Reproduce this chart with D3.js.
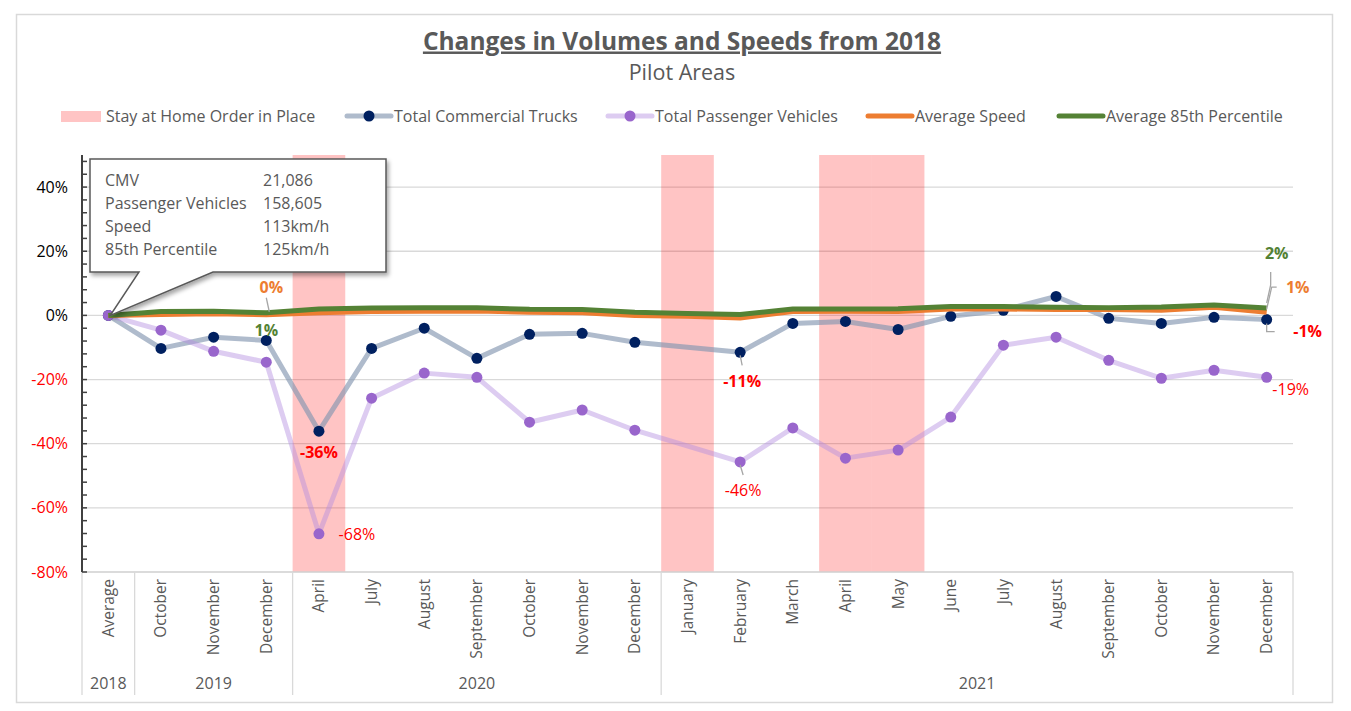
<!DOCTYPE html>
<html><head><meta charset="utf-8">
<script src="https://cdn.jsdelivr.net/npm/d3@7"></script>
<style>
body{margin:0;background:#fff}
svg{display:block}
text{font-family:'Open Sans',Lato,sans-serif}
</style>
</head><body>
<svg id="c" width="1351" height="711"></svg>
<script>
// ---------------- data ----------------
const categories = ["Average","October","November","December","April","July","August","September","October","November","December","January","February","March","April","May","June","July","August","September","October","November","December"];
const years = ["2018","2019","2020","2021"];
const yearOfCategory = [0,1,1,1,2,2,2,2,2,2,2,3,3,3,3,3,3,3,3,3,3,3,3];
const stayAtHome = [0,0,0,0,1,0,0,0,0,0,0,1,0,0,1,1,0,0,0,0,0,0,0];
const trucks    = [0,-10.3,-6.8,-7.8,-36.1,-10.3,-4.0,-13.4,-5.9,-5.6,-8.4,null,-11.5,-2.5,-1.9,-4.4,-0.3,1.6,5.9,-0.9,-2.5,-0.6,-1.3];
const passenger = [0,-4.6,-11.2,-14.6,-68.1,-25.8,-18.0,-19.3,-33.3,-29.5,-35.8,null,-45.7,-35.1,-44.5,-42.0,-31.7,-9.3,-6.8,-14.0,-19.6,-17.1,-19.3];
const avgSpeed  = [0,0.3,0.5,0.2,0.8,1.2,1.3,1.4,1.0,0.8,0.0,-0.3,-0.8,1.2,1.3,1.2,2.0,2.0,1.8,1.8,1.6,2.5,1.0];
const avg85th   = [0,1.2,1.3,0.8,2.0,2.3,2.4,2.4,1.9,1.8,1.0,0.6,0.3,2.0,2.0,2.1,2.8,2.8,2.5,2.4,2.6,3.2,2.3];
const yTicks = [-80,-60,-40,-20,0,20,40];
const calloutNames  = ["CMV","Passenger Vehicles","Speed","85th Percentile"];
const calloutValues = ["21,086","158,605","113km/h","125km/h"];
const seriesNames = ["Stay at Home Order in Place","Total Commercial Trucks","Total Passenger Vehicles","Average Speed","Average 85th Percentile"];

// ---------------- layout ----------------
const L = 82, R = 1293, T = 155, B = 572;
const svg = d3.select("#c");
const x = d3.scaleBand().domain(d3.range(categories.length)).range([L, R]).padding(0);
const cx = i => x(i) + x.bandwidth()/2;
const y = d3.scaleLinear().domain([-80, 50]).range([B, T]);
const grey = "#595959";

// outer border
svg.append("rect").attr("x",16.5).attr("y",14.5).attr("width",1316).attr("height",688)
  .attr("fill","#fff").attr("stroke","#D9D9D9").attr("stroke-width",1.5);

// title
svg.append("text").attr("x",682).attr("y",49.5).attr("text-anchor","middle")
  .attr("font-size",24.5).attr("font-weight","bold").attr("fill",grey)
  .attr("text-decoration","underline").text("Changes in Volumes and Speeds from 2018");
svg.append("text").attr("x",682).attr("y",80).attr("text-anchor","middle")
  .attr("font-size",21.5).attr("fill",grey).text("Pilot Areas");

// gridlines
svg.append("g").selectAll("line").data(yTicks).join("line")
  .attr("x1",L).attr("x2",R).attr("y1",d=>y(d)).attr("y2",d=>y(d))
  .attr("stroke","#D9D9D9").attr("stroke-width",1.3);

// stay at home bands
svg.append("g").selectAll("rect").data(d3.range(categories.length).filter(i=>stayAtHome[i]))
  .join("rect").attr("x",i=>x(i)).attr("width",x.bandwidth())
  .attr("y",y(50)).attr("height",y(-80)-y(50))
  .attr("fill","#FF0000").attr("fill-opacity",0.23);

// x axis line + separators
svg.append("line").attr("x1",L).attr("x2",R).attr("y1",B).attr("y2",B).attr("stroke","#D9D9D9").attr("stroke-width",1.3);
const groups = years.map((yr,g)=>{
  const idx = d3.range(categories.length).filter(i=>yearOfCategory[i]===g);
  return {yr, s: d3.min(idx), e: d3.max(idx)+1};
});
const sepX = groups.map(g=>x(g.s)).concat([R]);
svg.append("g").selectAll("line").data(sepX).join("line")
  .attr("x1",d=>d).attr("x2",d=>d).attr("y1",B).attr("y2",695)
  .attr("stroke","#D9D9D9").attr("stroke-width",1.3);
svg.append("g").selectAll("text").data(groups).join("text")
  .attr("x",g=>(x(g.s)+ (g.e<categories.length? x(g.e):R))/2).attr("y",689)
  .attr("text-anchor","middle").attr("font-size",16).attr("fill",grey).text(g=>g.yr);
svg.append("g").selectAll("text").data(categories).join("text")
  .attr("transform",(d,i)=>`translate(${cx(i)},579) rotate(-90)`)
  .attr("text-anchor","end").attr("dy","0.35em").attr("font-size",15.5).attr("fill",grey).text(d=>d);

// y axis
const yAxisG = svg.append("g");
yAxisG.append("line").attr("x1",L).attr("x2",L).attr("y1",T).attr("y2",B).attr("stroke","#404040").attr("stroke-width",2);
yAxisG.selectAll("line.t").data(d3.range(-80,49,4)).join("line").attr("class","t")
  .attr("x1",L).attr("x2",L+5).attr("y1",d=>y(d)).attr("y2",d=>y(d)).attr("stroke","#404040").attr("stroke-width",1.5);
yAxisG.selectAll("text").data(yTicks).join("text")
  .attr("x",68).attr("y",d=>y(d)).attr("dy","0.35em").attr("text-anchor","end")
  .attr("font-size",16).attr("fill",d=>d<0?"#FF0000":"#000").text(d=>d+"%");

// series lines
const line = d3.line().x(d=>cx(d.i)).y(d=>y(d.v));
const pts = arr => arr.map((v,i)=>({v,i})).filter(d=>d.v!==null);
svg.append("path").datum(pts(trucks)).attr("d",line).attr("fill","none")
  .attr("stroke","#8497B0").attr("stroke-opacity",0.65).attr("stroke-width",5).attr("stroke-linejoin","round");
svg.append("g").selectAll("circle").data(pts(trucks)).join("circle")
  .attr("cx",d=>cx(d.i)).attr("cy",d=>y(d.v)).attr("r",5.5).attr("fill","#002060");
svg.append("path").datum(pts(passenger)).attr("d",line).attr("fill","none")
  .attr("stroke","#B48FE0").attr("stroke-opacity",0.45).attr("stroke-width",5).attr("stroke-linejoin","round");
svg.append("g").selectAll("circle").data(pts(passenger)).join("circle")
  .attr("cx",d=>cx(d.i)).attr("cy",d=>y(d.v)).attr("r",5.5).attr("fill","#9966CC");
svg.append("path").datum(pts(avgSpeed)).attr("d",line).attr("fill","none")
  .attr("stroke","#ED7D31").attr("stroke-width",5).attr("stroke-linejoin","round");
svg.append("path").datum(pts(avg85th)).attr("d",line).attr("fill","none")
  .attr("stroke","#548235").attr("stroke-width",5).attr("stroke-linejoin","round");

// data labels
const fmt = v => Math.round(v) + "%";
const labels = [
  {arr:avgSpeed, i:3, color:"#ED7D31", bold:true, dx:5, dy:-27, leader:[[3,-3],[0,-17]]},
  {arr:avg85th, i:3, color:"#548235", bold:true, dx:0, dy:18},
  {arr:trucks, i:4, color:"#FF0000", bold:true, dx:0, dy:21},
  {arr:passenger, i:4, color:"#FF0000", bold:false, dx:38, dy:1},
  {arr:trucks, i:12, color:"#FF0000", bold:true, dx:2, dy:29, leader:[[0,3],[2,13]]},
  {arr:passenger, i:12, color:"#FF0000", bold:false, dx:3, dy:28, leader:[[0,3],[3,13]]},
  {arr:avg85th, i:22, color:"#548235", bold:true, dx:10, dy:-55, leader:[[0,-5],[4,-23],[4,-36]]},
  {arr:avgSpeed, i:22, color:"#ED7D31", bold:true, dx:31, dy:-25, leader:[[0,-3],[5,-25],[10,-25]]},
  {arr:trucks, i:22, color:"#FF0000", bold:true, dx:41, dy:12, leader:[[0,4],[0,12],[8,12]]},
  {arr:passenger, i:22, color:"#FF0000", bold:false, dx:24, dy:12}
];
labels.forEach(l=>{
  const px = cx(l.i), py = y(l.arr[l.i]);
  if (l.leader) svg.append("path").attr("d", d3.line()(l.leader.map(p=>[px+p[0],py+p[1]])))
    .attr("fill","none").attr("stroke","#A6A6A6").attr("stroke-width",1.3);
  svg.append("text").attr("x",px+l.dx).attr("y",py+l.dy).attr("dy","0.35em").attr("text-anchor","middle")
    .attr("font-size",16).attr("font-weight",l.bold?"bold":"normal").attr("fill",l.color).text(fmt(l.arr[l.i]));
});

// legend
const lg = svg.append("g");
const ly = 116;
lg.append("rect").attr("x",61).attr("y",ly-5).attr("width",40).attr("height",11).attr("fill","#FF0000").attr("fill-opacity",0.23);
lg.append("text").attr("x",106).attr("y",ly).attr("dy","0.35em").attr("font-size",16).attr("fill",grey).text(seriesNames[0]);
function legLine(x0, color, op, text, marker){
  lg.append("line").attr("x1",x0).attr("x2",x0+44).attr("y1",ly).attr("y2",ly).attr("stroke",color).attr("stroke-opacity",op).attr("stroke-width",5).attr("stroke-linecap","round");
  if (marker) lg.append("circle").attr("cx",x0+22).attr("cy",ly).attr("r",5.5).attr("fill",marker);
  lg.append("text").attr("x",x0+47).attr("y",ly).attr("dy","0.35em").attr("font-size",16).attr("fill",grey).text(text);
}
legLine(347,"#8497B0",0.65,seriesNames[1],"#002060");
legLine(608,"#B48FE0",0.45,seriesNames[2],"#9966CC");
legLine(868,"#ED7D31",1,seriesNames[3],null);
legLine(1059,"#548235",1,seriesNames[4],null);

// callout
const defs = svg.append("defs");
const f = defs.append("filter").attr("id","sh").attr("x","-10%").attr("y","-10%").attr("width","130%").attr("height","150%");
f.append("feDropShadow").attr("dx",2).attr("dy",3).attr("stdDeviation",2).attr("flood-color","#000").attr("flood-opacity",0.35);
const ax = cx(0), ay = y(0);
const bx0 = 90, by0 = 159, bx1 = 386, by1 = 272;
svg.append("path").attr("d",`M${bx0},${by0}H${bx1}V${by1}H213L${ax+2},${ay}L139,${by1}H${bx0}Z`)
  .attr("fill","#fff").attr("stroke","#595959").attr("stroke-width",1.5).attr("filter","url(#sh)");
calloutNames.forEach((n,k)=>{
  svg.append("text").attr("x",105).attr("y",180+k*23).attr("dy","0.35em").attr("font-size",16).attr("fill",grey).text(n);
  svg.append("text").attr("x",263).attr("y",180+k*23).attr("dy","0.35em").attr("font-size",16).attr("fill",grey).text(calloutValues[k]);
});
</script>
</body></html>
